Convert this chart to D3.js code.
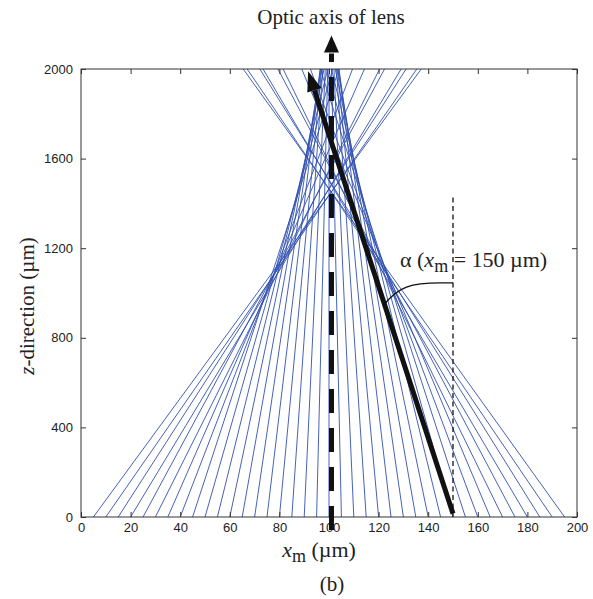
<!DOCTYPE html>
<html>
<head>
<meta charset="utf-8">
<script src="https://cdn.jsdelivr.net/npm/d3@7"></script>
<style>
  body { margin: 0; background: #fff; }
  svg { display: block; }
</style>
</head>
<body>
<svg id="chart" width="593" height="599"></svg>
<script>
// Ray start positions at the lens plane, x_m (µm)
const rayStartX = [5, 10, 15, 20, 25, 30, 35, 40, 45, 50, 55, 60, 65, 70, 75, 80, 85, 90, 95, 100,
                   105, 110, 115, 120, 125, 130, 135, 140, 145, 150, 155, 160, 165, 170, 175, 180, 185, 190, 195];
// Where each ray leaves the top of the window (z = 2000 µm)
const rayTopX   = [137.2, 135.4, 131.1, 129.1, 122.4, 120.4, 114.3, 109.5, 104.0, 101.5, 99.5, 98.0, 97.0, 96.5, 96.5, 97.0, 97.5, 98.5, 99.5, 100.0,
                   101.0, 102.0, 103.0, 103.5, 104.0, 104.0, 103.5, 102.5, 101.0, 99.0, 96.5, 92.5, 89.0, 81.5, 79.4, 73.4, 72.1, 67.0, 65.4];
const zTopOfWindow = 2000;

const xTicks = [0, 20, 40, 60, 80, 100, 120, 140, 160, 180, 200];
const zTicks = [0, 400, 800, 1200, 1600, 2000];

// Optic axis of the lens (thick dashed arrow), in µm
const lensAxis = { x: 101, zFrom: -58, zTo: 2150 };
// Refracted ray for x_m = 150 µm (thick solid arrow)
const markedRay = { x0: 150, z0: 15, x1: 91.6, z1: 1990 };
// Vertical reference through x_m = 150 µm (thin dashed)
const markerLine = { x: 150, zFrom: 0, zTo: 1430 };
// Angle marker: leaves the ray at z = arcStartZ and meets the reference line at z = arcEndZ
const arcStartZ = 950, arcEndZ = 1045, arcFlatX = 145;

const plot = { left: 81, right: 577, top: 69, bottom: 517 };

const svg = d3.select("#chart");

const x = d3.scaleLinear().domain([0, 200]).range([plot.left, plot.right]);
const z = d3.scaleLinear().domain([0, 2000]).range([plot.bottom, plot.top]);

const rays = rayStartX.map((x0, i) => ({ x0, x1: rayTopX[i] }));

svg.append("clipPath").attr("id", "plotClip")
  .append("rect")
  .attr("x", plot.left).attr("y", plot.top)
  .attr("width", plot.right - plot.left).attr("height", plot.bottom - plot.top);

// Rays
svg.append("g")
  .attr("clip-path", "url(#plotClip)")
  .selectAll("line.ray")
  .data(rays)
  .join("line")
  .attr("class", "ray")
  .attr("x1", d => x(d.x0)).attr("y1", z(0))
  .attr("x2", d => x(d.x1)).attr("y2", z(zTopOfWindow))
  .attr("stroke", "#3150b0")
  .attr("stroke-width", 0.9);

// Frame
svg.append("rect")
  .attr("x", plot.left).attr("y", plot.top)
  .attr("width", plot.right - plot.left).attr("height", plot.bottom - plot.top)
  .attr("fill", "none").attr("stroke", "#333").attr("stroke-width", 1);

const tickFont = "'Liberation Sans', Arial, sans-serif";

function styleAxis(g) {
  g.select(".domain").remove();
  g.selectAll(".tick line").attr("stroke", "#333");
  g.selectAll(".tick text")
    .attr("fill", "#222")
    .style("font-family", tickFont)
    .style("font-size", "13px");
}

svg.append("g")
  .attr("transform", `translate(0,${plot.bottom})`)
  .call(d3.axisBottom(x).tickValues(xTicks).tickSize(-5).tickSizeOuter(0).tickPadding(6).tickFormat(d3.format("d")))
  .call(styleAxis);

svg.append("g")
  .attr("transform", `translate(0,${plot.top})`)
  .call(d3.axisTop(x).tickValues(xTicks).tickSize(-5).tickSizeOuter(0).tickFormat(""))
  .call(styleAxis);

svg.append("g")
  .attr("transform", `translate(${plot.left},0)`)
  .call(d3.axisLeft(z).tickValues(zTicks).tickSize(-5).tickSizeOuter(0).tickPadding(8).tickFormat(d3.format("d")))
  .call(styleAxis);

svg.append("g")
  .attr("transform", `translate(${plot.right},0)`)
  .call(d3.axisRight(z).tickValues(zTicks).tickSize(-5).tickSizeOuter(0).tickFormat(""))
  .call(styleAxis);

// Thin dashed reference at x_m = 150 µm
svg.append("line")
  .attr("x1", x(markerLine.x)).attr("y1", z(markerLine.zFrom))
  .attr("x2", x(markerLine.x)).attr("y2", z(markerLine.zTo))
  .attr("stroke", "#111").attr("stroke-width", 1.3)
  .attr("stroke-dasharray", "5,3.5");

// Arrow head polygon at the tip, pointing along (from -> tip)
function arrowHead(tipX, tipY, fromX, fromY, len, halfW) {
  const dx = tipX - fromX, dy = tipY - fromY;
  const L = Math.hypot(dx, dy);
  const ux = dx / L, uy = dy / L;
  const bx = tipX - ux * len, by = tipY - uy * len;
  const px = -uy, py = ux;
  return { pts: [[tipX, tipY], [bx + px * halfW, by + py * halfW], [bx - px * halfW, by - py * halfW]], bx, by };
}

// Optic axis (thick dashed arrow)
{
  const xa = x(lensAxis.x);
  const yBottom = z(lensAxis.zFrom), yTip = z(lensAxis.zTo);
  const head = arrowHead(xa, yTip, xa, yBottom, 17, 7.5);
  svg.append("path")
    .attr("d", `M${xa},${yBottom} L${xa},${head.by + 1}`)
    .attr("stroke", "#111").attr("stroke-width", 5)
    .attr("stroke-dasharray", "24,15")
    .attr("fill", "none");
  svg.append("polygon")
    .attr("points", head.pts.map(p => p.join(",")).join(" "))
    .attr("fill", "#111");
}

// Refracted ray for x_m = 150 µm (thick solid arrow) and its angle marker
{
  const sx = x(markedRay.x0), sy = z(markedRay.z0);
  const tx = x(markedRay.x1), ty = z(markedRay.z1);
  const head = arrowHead(tx, ty, sx, sy, 20, 7.5);
  svg.append("line")
    .attr("x1", sx).attr("y1", sy)
    .attr("x2", head.bx).attr("y2", head.by)
    .attr("stroke", "#111").attr("stroke-width", 5);
  svg.append("polygon")
    .attr("points", head.pts.map(p => p.join(",")).join(" "))
    .attr("fill", "#111");

  const t = (arcStartZ - markedRay.z0) / (markedRay.z1 - markedRay.z0);
  const ax = x(markedRay.x0 + t * (markedRay.x1 - markedRay.x0)), ay = z(arcStartZ);
  const ex = x(markerLine.x), ey = z(arcEndZ);
  const fx = x(arcFlatX);
  svg.append("path")
    .attr("d", `M${ax},${ay} C${ax + 14},${ey + 4} ${fx - 30},${ey} ${fx},${ey} L${ex},${ey}`)
    .attr("fill", "none").attr("stroke", "#111").attr("stroke-width", 1.4);
}

const serif = "'Liberation Serif', 'Times New Roman', serif";

// Angle label
{
  const t = svg.append("text")
    .attr("x", 400).attr("y", 267)
    .attr("fill", "#222")
    .style("font-family", serif).style("font-size", "22px");
  t.append("tspan").text("α (");
  t.append("tspan").style("font-style", "italic").text("x");
  t.append("tspan").attr("dy", 5).style("font-size", "18px").text("m");
  t.append("tspan").attr("dy", -5).text(" = 150 µm)");
}

// Title
svg.append("text")
  .attr("x", 331).attr("y", 24)
  .attr("text-anchor", "middle")
  .attr("fill", "#222")
  .style("font-family", serif).style("font-size", "21px")
  .text("Optic axis of lens");

// X label
{
  const t = svg.append("text")
    .attr("x", 319).attr("y", 557)
    .attr("text-anchor", "middle")
    .attr("fill", "#222")
    .style("font-family", serif).style("font-size", "22px");
  t.append("tspan").style("font-style", "italic").text("x");
  t.append("tspan").attr("dy", 5).style("font-size", "18px").text("m");
  t.append("tspan").attr("dy", -5).text(" (µm)");
}

// Panel tag
svg.append("text")
  .attr("x", 332).attr("y", 591)
  .attr("text-anchor", "middle")
  .attr("fill", "#222")
  .style("font-family", serif).style("font-size", "21px")
  .text("(b)");

// Y label
{
  const t = svg.append("text")
    .attr("transform", "translate(34,306) rotate(-90)")
    .attr("text-anchor", "middle")
    .attr("fill", "#222")
    .style("font-family", serif).style("font-size", "21px");
  t.append("tspan").style("font-style", "italic").text("z");
  t.append("tspan").text("-direction (µm)");
}
</script>
</body>
</html>
